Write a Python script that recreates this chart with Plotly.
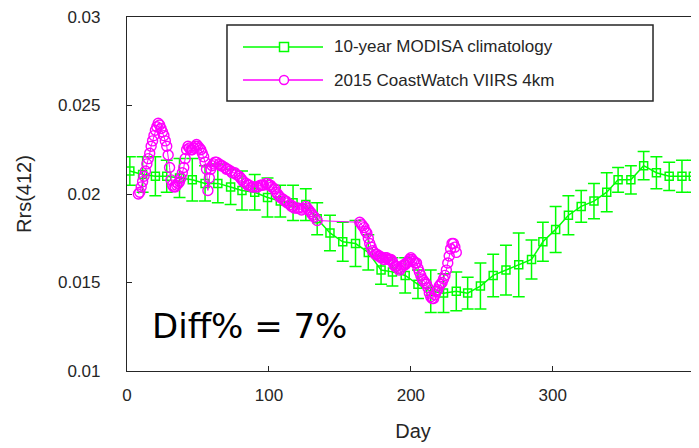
import plotly.graph_objects as go

# 10-year MODISA climatology (8-day composites)
clim_day = [2, 11, 20, 28, 37, 46, 55, 64, 73, 81, 90, 99, 108, 117, 126, 134,
            143, 152, 161, 170, 179, 187, 196, 205, 214, 223, 232, 240, 249, 258,
            267, 276, 285, 293, 302, 311, 320, 329, 338, 346, 355, 364, 373, 382,
            391, 399]
clim_rrs = [0.0213, 0.0211, 0.0210, 0.0210, 0.0209, 0.0208, 0.0206, 0.0206, 0.0204,
            0.0202, 0.0201, 0.0198, 0.0196, 0.0195, 0.0194, 0.0186, 0.0178, 0.0173,
            0.0172, 0.0167, 0.0157, 0.0156, 0.0154, 0.0149, 0.0145, 0.0144, 0.0145,
            0.0144, 0.0148, 0.0154, 0.0157, 0.0160, 0.0163, 0.0173, 0.0180, 0.0188,
            0.0193, 0.0196, 0.0201, 0.0208, 0.0208, 0.0216, 0.0212, 0.0210, 0.0210,
            0.0210]
clim_std = [0.0008, 0.0010, 0.0011, 0.0009, 0.0011, 0.0012, 0.0010, 0.0011, 0.0010,
            0.0011, 0.0010, 0.0011, 0.0009, 0.0010, 0.0009, 0.0009, 0.0010, 0.0011,
            0.0013, 0.0010, 0.0008, 0.0008, 0.0010, 0.0008, 0.0012, 0.0011, 0.0011,
            0.0009, 0.0013, 0.0012, 0.0014, 0.0018, 0.0011, 0.0011, 0.0013, 0.0011,
            0.0009, 0.0010, 0.0011, 0.0007, 0.0008, 0.0008, 0.0009, 0.0008, 0.0009,
            0.0009]

# 2015 CoastWatch VIIRS 4km daily values
viirs_day = [8, 9, 10, 11, 12, 13, 14, 15, 16, 17, 18, 19, 20, 21, 22, 23, 24, 25,
             26, 27, 28, 29, 30, 31, 32, 33, 34, 35, 36, 37, 38, 39, 40, 41, 42, 43,
             44, 45, 46, 47, 48, 49, 50, 51, 52, 53, 54, 55, 56, 57, 58, 59, 60, 61,
             62, 63, 65, 66, 67, 69, 70, 71, 73, 74, 76, 77, 79, 80, 81, 82, 84, 85,
             86, 88, 89, 91, 92, 94, 95, 96, 98, 99, 100, 101, 102, 104, 105, 106,
             107, 108, 110, 111, 112, 113, 115, 116, 117, 118, 120, 121, 123, 124,
             126, 127, 128, 129, 130, 131, 132, 134,
             164, 165, 166, 167, 168, 169, 170, 171, 172, 173, 174, 175, 176, 177,
             178, 179, 180, 181, 182, 183, 184, 185, 186, 187, 188, 189, 190, 191,
             192, 193, 194, 195, 196, 197, 198, 199, 200, 201, 202, 203, 204, 205,
             206, 207, 208, 209, 210, 211, 212, 213, 214, 215, 216, 217, 218, 219,
             220, 221, 222, 223, 224, 225, 226, 227, 228, 229, 230, 231, 232]
viirs_rrs = [0.0200, 0.0201, 0.0204, 0.0207, 0.0210, 0.0213, 0.0217, 0.0220, 0.0223,
             0.0227, 0.0230, 0.0233, 0.0236, 0.0238, 0.0240, 0.0239, 0.0237, 0.0235,
             0.0233, 0.0230, 0.0227, 0.0222, 0.0215, 0.0208, 0.0205, 0.0204, 0.0204,
             0.0205, 0.0206, 0.0207, 0.0209, 0.0212, 0.0215, 0.0220, 0.0225, 0.0227,
             0.0226, 0.0225, 0.0225, 0.0226, 0.0227, 0.0228, 0.0227, 0.0226, 0.0225,
             0.0223, 0.0221, 0.0218, 0.0214, 0.0202, 0.0209, 0.0214, 0.0216, 0.0217,
             0.0218, 0.0218, 0.0217, 0.0216, 0.0216, 0.0215, 0.0214, 0.0214, 0.0213,
             0.0212, 0.0212, 0.0211, 0.0210, 0.0209, 0.0208, 0.0207, 0.0206, 0.0205,
             0.0205, 0.0204, 0.0204, 0.0204, 0.0204, 0.0205, 0.0205, 0.0205, 0.0206,
             0.0206, 0.0205, 0.0205, 0.0204, 0.0203, 0.0201, 0.0200, 0.0199, 0.0198,
             0.0197, 0.0196, 0.0196, 0.0195, 0.0194, 0.0193, 0.0193, 0.0192, 0.0192,
             0.0192, 0.0191, 0.0192, 0.0193, 0.0192, 0.0191, 0.0190, 0.0189, 0.0188,
             0.0187, 0.0185,
             0.0184, 0.0183, 0.0182, 0.0181, 0.0179, 0.0178, 0.0175, 0.0172, 0.0170,
             0.0168, 0.0167, 0.0166, 0.0166, 0.0165, 0.0165, 0.0164, 0.0164, 0.0163,
             0.0164, 0.0164, 0.0163, 0.0163, 0.0163, 0.0162, 0.0160, 0.0159, 0.0159,
             0.0158, 0.0157, 0.0158, 0.0159, 0.0160, 0.0160, 0.0161, 0.0162, 0.0163,
             0.0164, 0.0163, 0.0162, 0.0161, 0.0161, 0.0158, 0.0156, 0.0154, 0.0152,
             0.0151, 0.0150, 0.0149, 0.0147, 0.0144, 0.0142, 0.0141, 0.0141, 0.0143,
             0.0145, 0.0146, 0.0148, 0.0149, 0.0150, 0.0152, 0.0154, 0.0157, 0.0161,
             0.0165, 0.0169, 0.0172, 0.0172, 0.0170, 0.0167]

x_ticks = [0, 100, 200, 300]
y_ticks = [0.01, 0.015, 0.02, 0.025, 0.03]
y_ticktext = ['0.01', '0.015', '0.02', '0.025', '0.03']

green = '#00FF00'
magenta = '#FF00FF'
axis_col = '#262626'

fig = go.Figure()

fig.add_trace(go.Scatter(
    x=clim_day, y=clim_rrs,
    mode='lines+markers',
    name='10-year MODISA climatology',
    line=dict(color=green, width=1.5),
    marker=dict(symbol='square-open', size=8, color=green, line=dict(width=1.5, color=green)),
    error_y=dict(type='data', array=clim_std, color=green, thickness=1.5, width=6)
))

fig.add_trace(go.Scatter(
    x=viirs_day, y=viirs_rrs,
    mode='lines+markers',
    name='2015 CoastWatch VIIRS 4km',
    line=dict(color=magenta, width=1),
    marker=dict(symbol='circle-open', size=10, color=magenta, line=dict(width=1.4, color=magenta))
))

# right-hand tick marks (box on)
fig.add_trace(go.Scatter(x=[None], y=[None], yaxis='y2', showlegend=False))

# hand-drawn legend in the MATLAB style
leg_x0, leg_x1, leg_y0, leg_y1 = 0.1748, 0.9196, 0.7627, 0.9774
rows = [(0.9153, green, 'square', '10-year MODISA climatology'),
        (0.822, magenta, 'circle', '2015 CoastWatch VIIRS 4km')]
shapes = [dict(type='rect', xref='paper', yref='paper', x0=leg_x0, x1=leg_x1,
               y0=leg_y0, y1=leg_y1, line=dict(color=axis_col, width=1.5),
               fillcolor='white', layer='above')]
annotations = []
for yy, col, sym, label in rows:
    shapes.append(dict(type='line', xref='paper', yref='paper', x0=0.2028, x1=0.3427,
                       y0=yy, y1=yy, line=dict(color=col, width=1.5), layer='above'))
    shapes.append(dict(type='rect' if sym == 'square' else 'circle',
                       xref='paper', yref='paper', xsizemode='pixel', ysizemode='pixel',
                       xanchor=0.2745, yanchor=yy, x0=-4.5, x1=4.5, y0=-4.5, y1=4.5,
                       line=dict(color=col, width=1.5), fillcolor='white', layer='above'))
    annotations.append(dict(xref='paper', yref='paper', x=0.3584, y=yy, text=label,
                            showarrow=False, xanchor='left', yanchor='middle',
                            font=dict(size=17, color=axis_col)))

annotations.append(dict(xref='paper', yref='paper', x=0.215, y=0.126, text='Diff% = 7%',
                        showarrow=False, xanchor='center', yanchor='middle',
                        font=dict(family='DejaVu Sans', size=34, color='black')))

# page body has an 8px margin, so the figure is 8px smaller than the window
fig.update_layout(
    width=691, height=440,
    margin=dict(l=119, r=0, t=9, b=77),
    plot_bgcolor='white', paper_bgcolor='white',
    font=dict(family='Liberation Sans, Arial', size=17, color=axis_col),
    showlegend=False,
    shapes=shapes,
    annotations=annotations,
    xaxis=dict(range=[0, 403], tickvals=x_ticks, ticks='inside', ticklen=5,
               tickcolor=axis_col, showline=True, linecolor=axis_col, linewidth=1.2,
               mirror=True, showgrid=False, zeroline=False, ticklabelstandoff=8,
               automargin=False,
               title=dict(text='Day', font=dict(size=20), standoff=20)),
    yaxis=dict(range=[0.01, 0.03], tickvals=y_ticks, ticktext=y_ticktext,
               ticks='inside', ticklen=5, tickcolor=axis_col, showline=True,
               linecolor=axis_col, linewidth=1.2, showgrid=False, zeroline=False,
               ticklabelstandoff=22, automargin=False, ticklabeloverflow='allow',
               title=dict(text='Rrs(412)', font=dict(size=20), standoff=20)),
    yaxis2=dict(range=[0.01, 0.03], overlaying='y', side='right', tickvals=y_ticks,
                ticks='inside', ticklen=5, tickcolor=axis_col, showticklabels=False,
                showline=False, showgrid=False, zeroline=False, automargin=False)
)

fig.write_html("out.html")
